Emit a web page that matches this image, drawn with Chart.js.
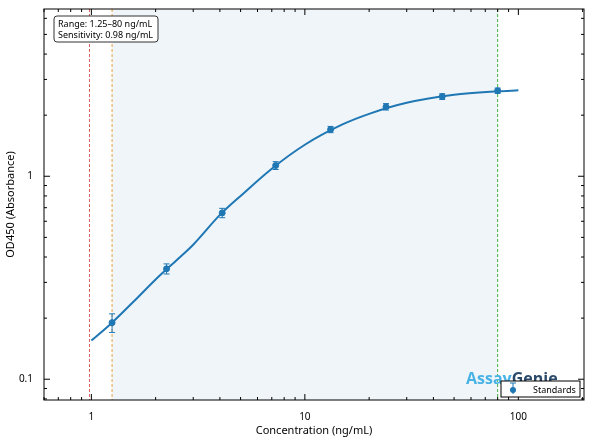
<!DOCTYPE html><html><head><meta charset="utf-8">
<script src="https://cdn.jsdelivr.net/npm/chart.js@4"></script>
<style>body{margin:0;background:#fff}#w{width:590px;height:441px;position:relative}</style></head><body>
<div id="w"><canvas id="c"></canvas></div>
<script>
const concs=[1.25,2.25,4.1,7.3,13.2,24,44,80];
const ods=[0.19,0.35,0.66,1.13,1.70,2.20,2.47,2.64];
const errs=[0.02,0.02,0.035,0.05,0.06,0.08,0.08,0.08];
const fitX=[1,1.25,1.6,2,2.5,3,4,5,7,10,15,20,30,50,80,100];
const fitY=[0.155,0.19,0.245,0.31,0.385,0.46,0.645,0.80,1.09,1.43,1.80,2.03,2.30,2.52,2.62,2.65];
const xTicks=[1,10,100];
const yTicks=[0.1,1];
const sensitivity=0.98, rangeLo=1.25, rangeHi=80;

const deco={id:'deco',
 beforeDatasetsDraw(ch){const c=ch.ctx,x=ch.scales.x,y=ch.scales.y,a=ch.chartArea;
  c.save();c.fillStyle='rgba(70,130,180,0.08)';
  c.fillRect(x.getPixelForValue(rangeLo),a.top,x.getPixelForValue(rangeHi)-x.getPixelForValue(rangeLo),a.bottom-a.top);
  c.setLineDash([3,2]);c.lineWidth=1;
  [[sensitivity,'#e06060'],[rangeLo,'#e8a040'],[rangeHi,'#40b040']].forEach(([v,col])=>{const p=x.getPixelForValue(v);c.strokeStyle=col;c.beginPath();c.moveTo(p,a.top);c.lineTo(p,a.bottom);c.stroke();});
  c.setLineDash([]);
  c.strokeStyle='#1f77b4';c.lineWidth=1;
  concs.forEach((v,i)=>{const px=x.getPixelForValue(v),t=y.getPixelForValue(ods[i]+errs[i]),b=y.getPixelForValue(ods[i]-errs[i]);
   c.beginPath();c.moveTo(px,t);c.lineTo(px,b);c.moveTo(px-3,t);c.lineTo(px+3,t);c.moveTo(px-3,b);c.lineTo(px+3,b);c.stroke();});
  c.restore();},
 afterDraw(ch){const c=ch.ctx,x=ch.scales.x,y=ch.scales.y,a=ch.chartArea;
  c.save();c.strokeStyle='#000';c.lineWidth=1;c.strokeRect(a.left,a.top,a.right-a.left,a.bottom-a.top);
  c.beginPath();
  for(let d=-1;d<=2;d++)for(let m=1;m<10;m++){const v=m*Math.pow(10,d);if(v<x.min||v>x.max)continue;const p=x.getPixelForValue(v),L=m==1?6:3;
   c.moveTo(p,a.bottom);c.lineTo(p,a.bottom-L);c.moveTo(p,a.top);c.lineTo(p,a.top+L);}
  for(let d=-2;d<=1;d++)for(let m=1;m<10;m++){const v=m*Math.pow(10,d);if(v<y.min||v>y.max)continue;const p=y.getPixelForValue(v),L=m==1?6:3;
   c.moveTo(a.left,p);c.lineTo(a.left+L,p);c.moveTo(a.right,p);c.lineTo(a.right-L,p);}
  c.stroke();
  c.font='9px "Noto Sans"';c.fillStyle='#fff';c.strokeStyle='#333';
  c.beginPath();c.roundRect(a.left+10,a.top+7,104,26,3);c.fill();c.stroke();
  c.fillStyle='#000';c.fillText('Range: 1.25–80 ng/mL',a.left+14,a.top+18);c.fillText('Sensitivity: 0.98 ng/mL',a.left+14,a.top+29);
  c.font='bold 16px "Open Sans"';c.fillStyle='#4ab3e6';c.fillText('Assay',466,384);
  const w=c.measureText('Assay').width;c.fillStyle='#2b4a6b';c.fillText('Genie',466+w,384);
  c.fillStyle='#fff';c.strokeStyle='#000';c.fillRect(501,381,79,16);c.strokeRect(501,381,79,16);
  c.strokeStyle='#1f77b4';c.beginPath();c.moveTo(513,383);c.lineTo(513,394);c.moveTo(510,383);c.lineTo(516,383);c.stroke();
  c.fillStyle='#1f77b4';c.beginPath();c.arc(513,390,3,0,7);c.fill();
  c.fillStyle='#000';c.font='9px "Noto Sans"';c.fillText('Standards',533,393);
  c.restore();}};

new Chart(document.getElementById('c'),{
 data:{datasets:[
  {type:'line',data:fitX.map((v,i)=>({x:v,y:fitY[i]})),borderColor:'#1f77b4',borderWidth:2,pointRadius:0,cubicInterpolationMode:'monotone'},
  {type:'scatter',data:concs.map((v,i)=>({x:v,y:ods[i]})),backgroundColor:'#1f77b4',borderColor:'#1f77b4',pointRadius:3}]},
 options:{responsive:true,maintainAspectRatio:false,animation:false,
  layout:{padding:{top:7,right:6,left:0,bottom:0}},
  plugins:{legend:{display:false},tooltip:{enabled:false}},
  scales:{
   x:{type:'logarithmic',min:0.62,max:203,grid:{display:false},border:{display:false},
    afterBuildTicks(s){s.ticks=xTicks.map(v=>({value:v}));},
    afterFit(s){s.height=41;},
    ticks:{callback:v=>String(v),color:'#000',font:{family:'Noto Sans',size:10},maxRotation:0},
    title:{display:true,text:'Concentration (ng/mL)',color:'#000',font:{family:'Noto Sans',size:11}}},
   y:{type:'logarithmic',min:0.079,max:6.67,grid:{display:false},border:{display:false},
    afterBuildTicks(s){s.ticks=yTicks.map(v=>({value:v}));},
    afterFit(s){s.width=44;},
    ticks:{callback:v=>String(v),color:'#000',font:{family:'Noto Sans',size:10}},
    title:{display:true,text:'OD450 (Absorbance)',color:'#000',font:{family:'Noto Sans',size:11}}}}},
 plugins:[deco]});
</script></body></html>
